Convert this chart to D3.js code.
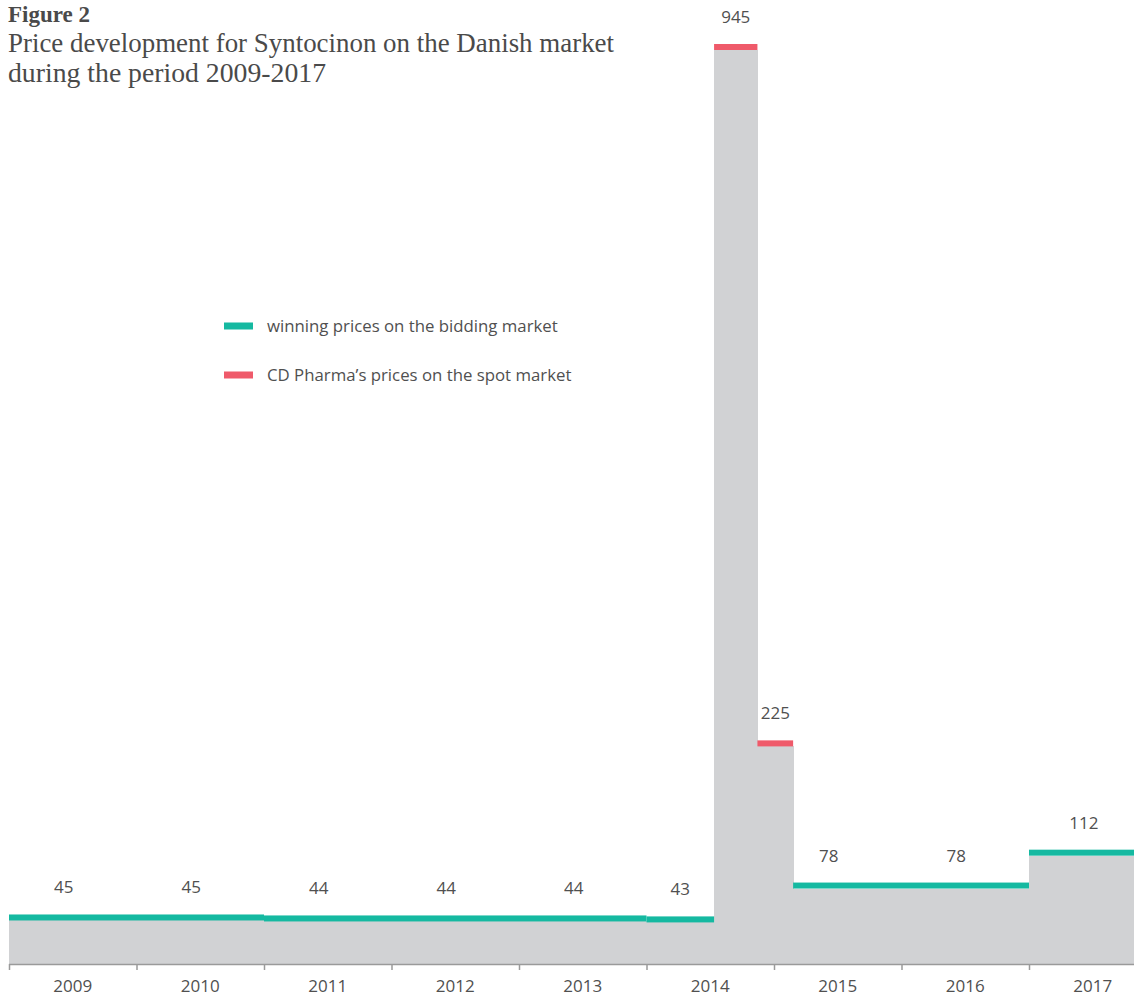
<!DOCTYPE html>
<html>
<head>
<meta charset="utf-8">
<script src="https://cdn.jsdelivr.net/npm/d3@7"></script>
<style>
  html, body { margin: 0; padding: 0; background: #fff; }
  svg { display: block; }
</style>
</head>
<body>
<svg id="chart" width="1134" height="997"></svg>
<script>
// ---- data ----
const years = [2009, 2010, 2011, 2012, 2013, 2014, 2015, 2016, 2017];
const biddingStart = [2009, 2011, 2014, 2015.15, 2017];
const biddingEnd   = [2011, 2014, 2014.53, 2017, 2018];
const biddingPrice = [45, 44, 43, 78, 112];
const spotStart = [2014.53, 2014.87];
const spotEnd   = [2014.87, 2015.15];
const spotPrice = [945, 225];
const titleLines = ["Price development for Syntocinon on the Danish market", "during the period 2009-2017"];
const legendLabels = ["winning prices on the bidding market", "CD Pharma\u2019s prices on the spot market"];

// ---- styles ----
const TEAL = "#15b9a1", RED = "#ef5a6a", GRAY = "#d1d2d4", TEXT = "#505050", AXIS = "#9a9a9a";

const svg = d3.select("#chart");
const x = d3.scaleLinear().domain([2009, 2018]).range([9, 1156.5]);
const y = d3.scaleLinear().domain([0, 945]).range([964, 50]);
const band = d3.scaleBand().domain(years).range([x(2009), x(2018)]);

const bidding = biddingPrice.map((v, i) => ({ s: biddingStart[i], e: biddingEnd[i], v, type: "bid" }));
const spot = spotPrice.map((v, i) => ({ s: spotStart[i], e: spotEnd[i], v, type: "spot" }));
const segs = bidding.concat(spot);

// gray fill
svg.append("g").attr("shape-rendering", "crispEdges").selectAll("rect").data(segs).join("rect")
  .attr("x", d => x(d.s)).attr("width", d => x(d.e) - x(d.s) + 0.6)
  .attr("y", d => y(d.v)).attr("height", d => y(0) - y(d.v))
  .attr("fill", GRAY);

// price lines
const LW = 6;
svg.append("g").selectAll("rect").data(segs).join("rect")
  .attr("x", d => x(d.s)).attr("width", d => x(d.e) - x(d.s))
  .attr("y", d => y(d.v) - LW).attr("height", LW)
  .attr("fill", d => d.type === "bid" ? TEAL : RED);

// value labels
const labels = [];
segs.forEach(d => {
  if (d.e - d.s >= 1) {
    for (let yr = Math.floor(d.s); yr < Math.ceil(d.e); yr++) labels.push({ xv: yr + 0.43, v: d.v });
  } else {
    labels.push({ xv: (d.s + d.e) / 2, v: d.v });
  }
});
svg.append("g").selectAll("text").data(labels).join("text")
  .attr("x", d => x(d.xv)).attr("y", d => y(d.v) - 27)
  .attr("text-anchor", "middle")
  .attr("font-family", "'Open Sans', sans-serif").attr("font-size", 17)
  .attr("fill", TEXT).text(d => d.v);

// axis
const axG = svg.append("g").attr("transform", `translate(0,${y(0)})`);
axG.call(d3.axisBottom(x).tickValues(d3.range(2009, 2019)).tickSize(6).tickFormat(""));
axG.select(".domain").attr("stroke", AXIS).attr("stroke-width", 1.5).attr("d", `M${x(2009)},0.5H${x(2018)}`);
axG.selectAll(".tick line").attr("stroke", AXIS).attr("stroke-width", 1.5);
const lbG = svg.append("g").attr("transform", `translate(0,${y(0)})`);
lbG.call(d3.axisBottom(band).tickSize(0).tickPadding(16));
lbG.select(".domain").remove();
lbG.selectAll("text").attr("font-family", "'Open Sans', sans-serif").attr("font-size", 17).attr("fill", TEXT);

// legend
const legColors = [TEAL, RED];
const lg = svg.append("g").selectAll("g").data(legendLabels).join("g")
  .attr("transform", (d, i) => `translate(224,${326 + i * 49})`);
lg.append("rect").attr("x", 0).attr("y", -3.5).attr("width", 29).attr("height", 7).attr("fill", (d, i) => legColors[i]);
lg.append("text").attr("x", 43).attr("y", 6).attr("font-family", "'Open Sans', sans-serif").attr("font-size", 16.8)
  .attr("fill", TEXT).text(d => d);

// title
svg.append("text").attr("x", 8).attr("y", 22).attr("font-family", "'Liberation Serif', serif")
  .attr("font-weight", "bold").attr("font-size", 23).attr("fill", "#4a4a4a").text("Figure 2");
svg.append("g").selectAll("text").data(titleLines).join("text")
  .attr("x", 8).attr("y", (d, i) => 52 + i * 30)
  .attr("font-family", "'Liberation Serif', serif").attr("font-size", 27).attr("fill", "#4a4a4a")
  .attr("textLength", (d, i) => i === 0 ? 606 : 318).attr("lengthAdjust", "spacingAndGlyphs")
  .text(d => d);
</script>
</body>
</html>
